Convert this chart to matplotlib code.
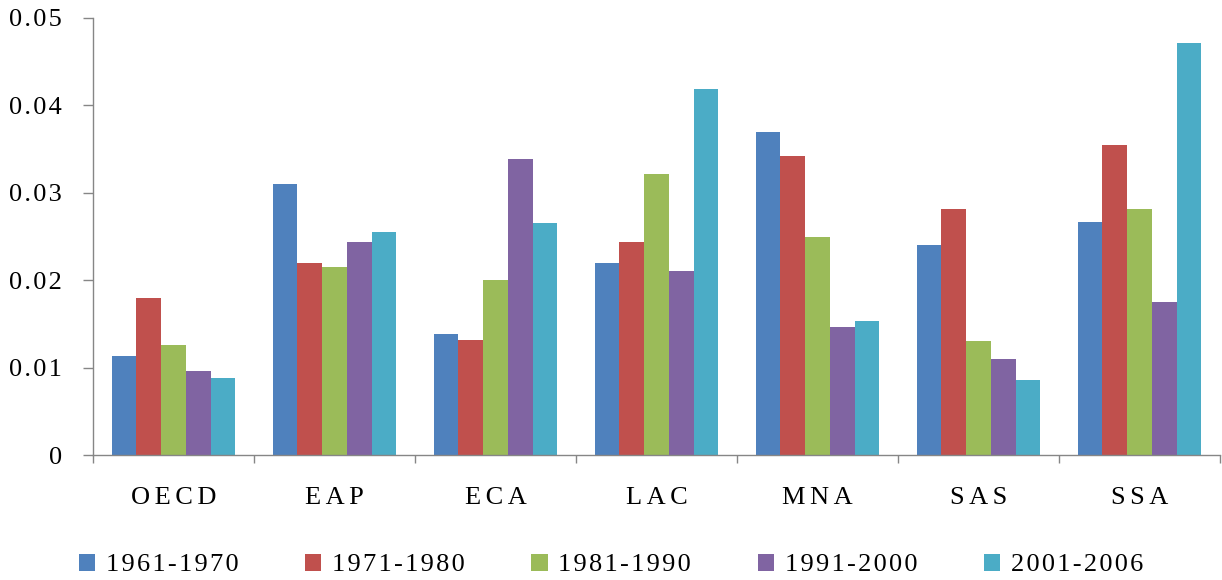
import matplotlib
matplotlib.use("Agg")
import matplotlib.pyplot as plt
import numpy as np

HS = "\u200a"  # hair space for letter spacing

categories = ["OECD", "EAP", "ECA", "LAC", "MNA", "SAS", "SSA"]
series_names = ["1961-1970", "1971-1980", "1981-1990", "1991-2000", "2001-2006"]
s1961 = [0.0113, 0.0310, 0.0138, 0.0220, 0.0370, 0.0240, 0.0267]
s1971 = [0.0180, 0.0220, 0.0132, 0.0244, 0.0342, 0.0282, 0.0355]
s1981 = [0.0126, 0.0215, 0.0200, 0.0322, 0.0250, 0.0130, 0.0282]
s1991 = [0.0096, 0.0244, 0.0339, 0.0210, 0.0147, 0.0110, 0.0175]
s2001 = [0.0088, 0.0255, 0.0265, 0.0419, 0.0153, 0.0086, 0.0471]
y_ticks = [0, 0.01, 0.02, 0.03, 0.04, 0.05]
y_tick_labels = ["0", "0.01", "0.02", "0.03", "0.04", "0.05"]

colors = ["#4F81BD", "#C0504D", "#9BBB59", "#8064A2", "#4BACC6"]
series = [s1961, s1971, s1981, s1991, s2001]

plt.rcParams["font.family"] = ["Liberation Serif", "DejaVu Serif"]
FS = 19


def spaced(s, sep=HS):
    return sep.join(list(s))


fig = plt.figure(figsize=(12.22, 5.8), dpi=100)
ax = fig.add_axes([93 / 1222, 1 - 455 / 580, (1220 - 93) / 1222, (455 - 18) / 580])

n = len(series)
bw = 1 / 6.5
x = np.arange(len(categories))
for i, (vals, c, name) in enumerate(zip(series, colors, series_names)):
    ax.bar(x + (i - (n - 1) / 2) * bw, vals, width=bw, color=c, label=spaced(name),
           linewidth=0)

ax.set_xlim(-0.5, len(categories) - 0.5)
ax.set_ylim(0, 0.05)
ax.set_yticks(y_ticks)
ax.set_yticklabels([spaced(t) for t in y_tick_labels], fontsize=FS)
ax.set_xticks(x)
ax.set_xticklabels([spaced(c, HS * 2) for c in categories], fontsize=FS)
ax.set_xticks(np.arange(len(categories) + 1) - 0.5, minor=True)

grey = "#868686"
for s in ["top", "right"]:
    ax.spines[s].set_visible(False)
for s in ["left", "bottom"]:
    ax.spines[s].set_color(grey)
    ax.spines[s].set_linewidth(1.0)

ax.tick_params(axis="y", direction="out", length=7.2, color=grey, pad=15, width=1.0)
ax.tick_params(axis="x", which="major", length=0, pad=23)
ax.tick_params(axis="x", which="minor", direction="out", length=6, color=grey, width=1.0)

fig.legend(loc="center", bbox_to_anchor=(0.5, 1 - 565 / 580), ncol=5, frameon=False,
           fontsize=FS, handlelength=0.62, handleheight=0.62, handletextpad=0.4,
           columnspacing=2.53, borderaxespad=0)

fig.savefig("out.png", dpi=100)
